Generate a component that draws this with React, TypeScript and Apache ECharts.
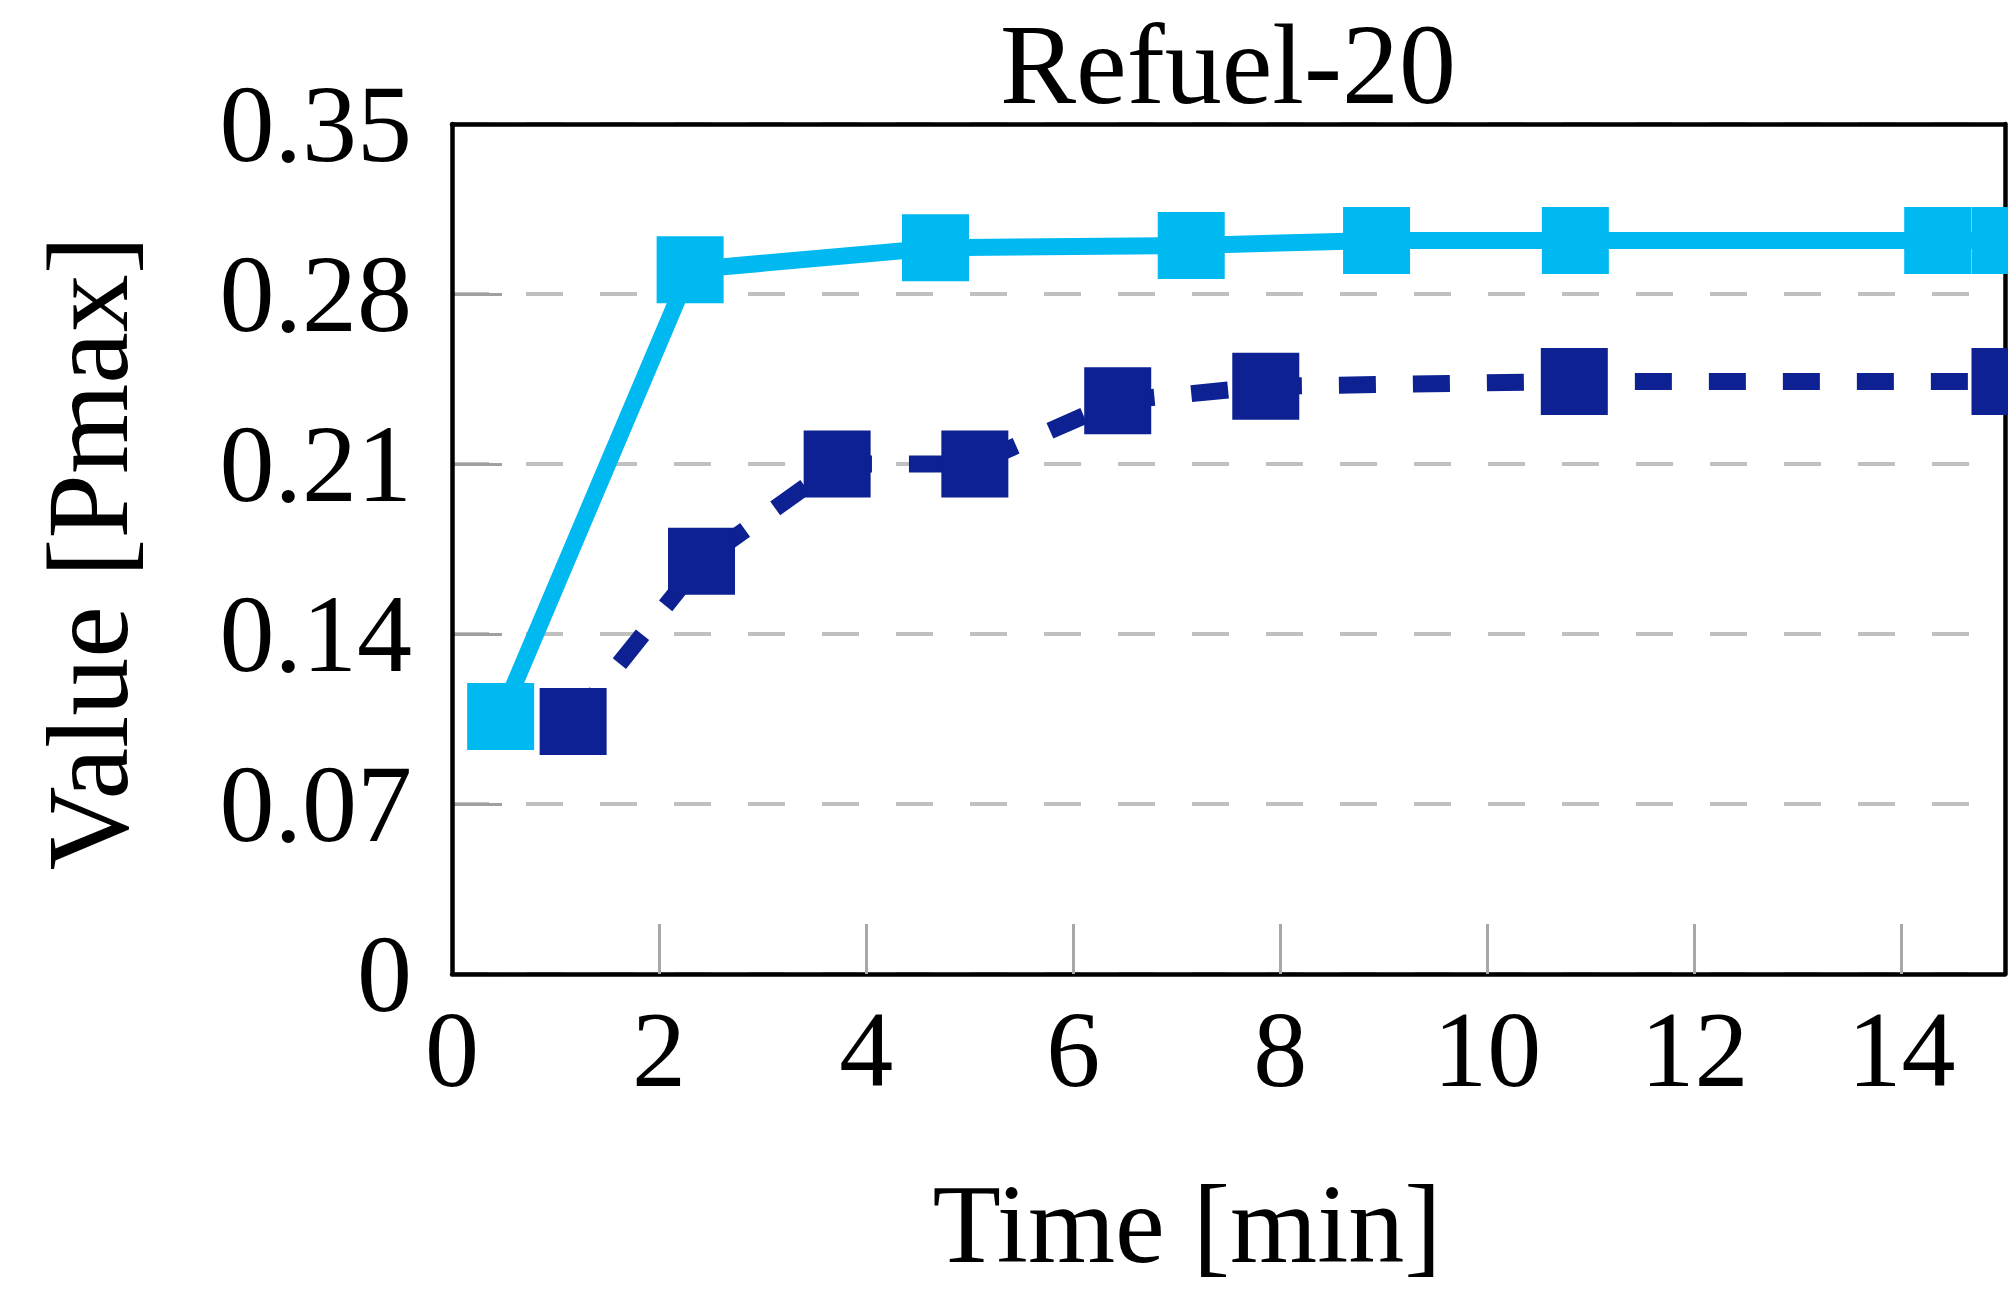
import React, { useEffect, useRef } from "react";
import * as echarts from "echarts";

// ---- data ----
const titleText = "Refuel-20";
const xName = "Time [min]";
const yName = "Value [Pmax]";

const lightX = [0.47, 2.3, 4.67, 7.14, 8.93, 10.85, 14.35, 15.0];
const lightY = [0.106, 0.29, 0.299, 0.3, 0.302, 0.302, 0.302, 0.302];

const darkX = [1.17, 2.41, 3.72, 5.05, 6.43, 7.86, 10.84, 15.0];
const darkY = [0.104, 0.17, 0.21, 0.21, 0.236, 0.242, 0.244, 0.244];

const xMin = 0;
const xMax = 15;
const xStep = 2;
const yMin = 0;
const yMax = 0.35;
const yStep = 0.07;

const LIGHT = "#00B9F1";
const DARK = "#0D2192";
const FONT = "Liberation Serif";

export default function App() {
  const ref = useRef<HTMLDivElement>(null);

  useEffect(() => {
    document.body.style.margin = "0";
    if (!ref.current) return;
    const chart = echarts.init(ref.current, undefined, { renderer: "svg" });

    const gridLeft = 452;
    const gridTop = 124;
    const gridW = 1553;
    const gridH = 850;

    const frameAxisX = (pos: "bottom" | "top", z: number) => ({
      type: "value",
      position: pos,
      min: xMin,
      max: xMax,
      interval: xStep,
      z,
      axisLine: { show: true, onZero: false, lineStyle: { color: "#000", width: 4.5 } },
      axisTick: { show: false },
      axisLabel: { show: false },
      splitLine: { show: false },
    });
    const frameAxisY = (pos: "left" | "right", z: number) => ({
      type: "value",
      position: pos,
      min: yMin,
      max: yMax,
      interval: yStep,
      z,
      axisLine: { show: true, onZero: false, lineStyle: { color: "#000", width: 4.5 } },
      axisTick: { show: false },
      axisLabel: { show: false },
      splitLine: { show: false },
    });

    const option: any = {
      animation: false,
      backgroundColor: "#ffffff",
      grid: { left: gridLeft, top: gridTop, width: gridW, height: gridH, containLabel: false },
      xAxis: [
        {
          type: "value",
          position: "bottom",
          min: xMin,
          max: xMax,
          interval: xStep,
          z: 3,
          axisLine: { show: true, onZero: false, lineStyle: { color: "#000", width: 4.5 } },
          axisTick: { show: true, inside: true, length: 50, lineStyle: { color: "#a8a8a8", width: 3 } },
          axisLabel: {
            show: true,
            margin: 21,
            showMaxLabel: false,
            fontFamily: FONT,
            fontSize: 108,
            color: "#000",
            formatter: (v: number) => String(v),
          },
          splitLine: { show: false },
        },
        frameAxisX("top", 4),
      ],
      yAxis: [
        {
          type: "value",
          position: "left",
          min: yMin,
          max: yMax,
          interval: yStep,
          z: 1,
          axisLine: { show: false, onZero: false },
          axisTick: { show: true, inside: true, length: 50, lineStyle: { color: "#a0a0a0", width: 3 } },
          axisLabel: {
            show: true,
            margin: 40,
            fontFamily: FONT,
            fontSize: 110,
            color: "#000",
            formatter: (v: number) => (Math.abs(v) < 1e-9 ? "0" : v.toFixed(2)),
          },
          splitLine: { show: true, lineStyle: { color: "#c0c0c0", width: 4, type: [37, 37] } },
        },
        frameAxisY("left", 4),
        frameAxisY("right", 4),
      ],
      graphic: [
        {
          type: "text",
          x: 1228,
          y: 64,
          style: {
            text: titleText,
            fill: "#000",
            font: `114px "${FONT}"`,
            lineHeight: 114,
            textAlign: "center",
            textVerticalAlign: "middle",
          },
        },
        {
          type: "text",
          x: 1187,
          y: 1224,
          style: {
            text: xName,
            fill: "#000",
            font: `112px "${FONT}"`,
            lineHeight: 112,
            textAlign: "center",
            textVerticalAlign: "middle",
          },
        },
        {
          type: "text",
          x: 88,
          y: 553,
          rotation: Math.PI / 2,
          style: {
            text: yName,
            fill: "#000",
            font: `116px "${FONT}"`,
            lineHeight: 116,
            textAlign: "center",
            textVerticalAlign: "middle",
          },
        },
      ],
      series: [
        {
          name: "light",
          type: "line",
          xAxisIndex: 0,
          yAxisIndex: 0,
          z: 5,
          clip: false,
          data: lightX.map((x, i) => [x, lightY[i]]),
          symbol: "rect",
          symbolSize: 67,
          itemStyle: { color: LIGHT },
          lineStyle: { color: LIGHT, width: 17, type: "solid" },
        },
        {
          name: "dark",
          type: "line",
          xAxisIndex: 0,
          yAxisIndex: 0,
          z: 5,
          clip: false,
          data: darkX.map((x, i) => [x, darkY[i]]),
          symbol: "rect",
          symbolSize: 67,
          itemStyle: { color: DARK },
          lineStyle: { color: DARK, width: 17, type: [37, 37] },
        },
      ],
    };

    chart.setOption(option);
    return () => chart.dispose();
  }, []);

  return <div ref={ref} style={{ width: 2008, height: 1296 }} />;
}
